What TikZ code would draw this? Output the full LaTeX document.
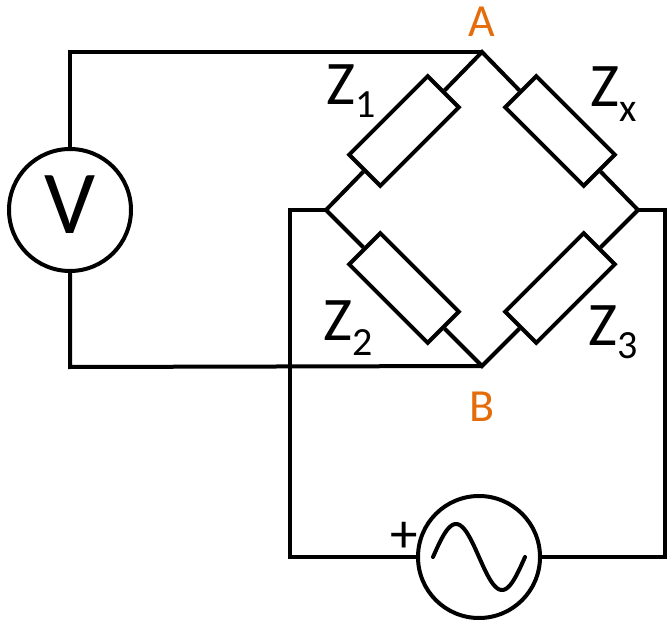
\documentclass[tikz,border=0pt]{standalone}
\usepackage{fontspec}
\setmainfont{Carlito}
\definecolor{labelorange}{RGB}{228,108,10}
\begin{document}
\begin{tikzpicture}[x=1pt,y=-1pt,
  wire/.style={line width=4pt, line join=miter},
  res/.style={draw, line width=4pt, minimum width=111pt, minimum height=44pt, inner sep=0pt, fill=white},
  meter/.style={draw, circle, line width=4pt, minimum size=122pt, inner sep=0pt},
  zlabel/.style={anchor=base west, inner sep=0pt, font=\fontsize{62}{62}\selectfont},
  ptlabel/.style={anchor=base, inner sep=0pt, text=labelorange, font=\fontsize{46}{46}\selectfont}]
\useasboundingbox (0,0) rectangle (669,620);
% bridge junctions
\coordinate (A) at (482,52);
\coordinate (L) at (326,210);
\coordinate (R) at (638,210);
\coordinate (B) at (482,366);
% wire corners
\coordinate (TL) at (70,52);
\coordinate (BL) at (70,367);
\coordinate (LW) at (290,210);
\coordinate (LB) at (290,557);
\coordinate (RB) at (665,557);
\coordinate (RW) at (665,210);
% impedances
\node[res, rotate=45] (Z1) at (404,131) {};
\node[res, rotate=-45] (Zx) at (560,131) {};
\node[res, rotate=-45] (Z2) at (404,288) {};
\node[res, rotate=45] (Z3) at (560,288) {};
% meters
\node[meter, font=\fontsize{90}{90}\selectfont] (VM) at (70,210) {\raisebox{11pt}{V}};
\node[meter] (SRC) at (479,557) {};
\draw[line width=4pt, line cap=round, shift={(SRC.center)}]
  plot[domain=0:360, samples=73, smooth] ({-46+\x*0.25556},{-33*sin(\x)});
% bridge wires
\draw[wire] (Z1.east) -- (A) -- (Zx.west);
\draw[wire] (Zx.east) -- (R) -- (Z3.east);
\draw[wire] (Z3.west) -- (B) -- (Z2.east);
\draw[wire] (Z2.west) -- (L) -- (Z1.west);
% external wires
\draw[wire] (VM.north) -- (TL) -- (A);
\draw[wire] (VM.south) -- (BL) -- (B);
\draw[wire] (L) -- (LW) -- (LB) -- (SRC.west);
\draw[wire] (SRC.east) -- (RB) -- (RW) -- (R);
% labels
\node[zlabel] (lZ1) at (326,105) {Z\raisebox{-13pt}{\fontsize{40}{40}\selectfont 1}};
\node[zlabel] (lZx) at (590,107) {Z\raisebox{-15pt}{\fontsize{40}{40}\selectfont x}};
\node[zlabel] (lZ2) at (323,340) {Z\raisebox{-15pt}{\fontsize{40}{40}\selectfont 2}};
\node[zlabel] (lZ3) at (588,345) {Z\raisebox{-13pt}{\fontsize{40}{40}\selectfont 3}};
\node[ptlabel] (lA) at (482,37) {A};
\node[ptlabel] (lB) at (482,421) {B};
\node[inner sep=0pt, font=\fontsize{55}{55}\selectfont] (plus) at (404,537) {+};
\end{tikzpicture}
\end{document}
